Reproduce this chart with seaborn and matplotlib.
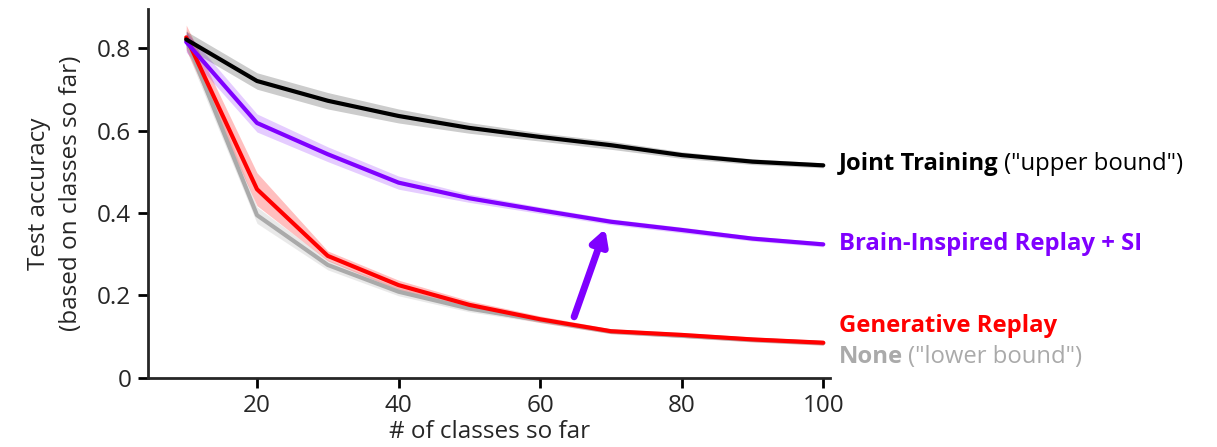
import numpy as np
import pandas as pd
import matplotlib
matplotlib.use("Agg")
import matplotlib.pyplot as plt
import seaborn as sns

classes = [10, 20, 30, 40, 50, 60, 70, 80, 90, 100]
joint = [0.822, 0.721, 0.673, 0.636, 0.607, 0.585, 0.565, 0.541, 0.525, 0.516]
joint_err = [0.02, 0.02, 0.02, 0.017, 0.013, 0.01, 0.01, 0.008, 0.007, 0.006]
bir_si = [0.816, 0.619, 0.543, 0.474, 0.436, 0.407, 0.379, 0.359, 0.338, 0.324]
bir_si_err = [0.025, 0.022, 0.018, 0.016, 0.01, 0.008, 0.007, 0.007, 0.006, 0.006]
gen_replay = [0.827, 0.458, 0.296, 0.225, 0.177, 0.142, 0.113, 0.104, 0.093, 0.085]
gen_replay_err = [0.03, 0.04, 0.012, 0.012, 0.01, 0.008, 0.006, 0.006, 0.006, 0.006]
none = [0.822, 0.395, 0.274, 0.209, 0.168, 0.140, 0.112, 0.102, 0.092, 0.084]
none_err = [0.025, 0.02, 0.012, 0.01, 0.008, 0.006, 0.005, 0.005, 0.005, 0.005]

series = [
    ("None", none, none_err, "#aaaaaa", 0.25),
    ("Generative Replay", gen_replay, gen_replay_err, "#ff0000", 0.25),
    ("Brain-Inspired Replay + SI", bir_si, bir_si_err, "#8000ff", 0.2),
    ("Joint Training", joint, joint_err, "#000000", 0.2),
]

sns.set_style("ticks")
plt.rcParams['font.family'] = ['Open Sans', 'DejaVu Sans']

fig = plt.figure(figsize=(12.17, 4.47), dpi=100)
ax = fig.add_axes([0.1216, 0.155, 0.5607, 0.824])

for name, vals, err, col, alpha in series:
    v = np.array(vals); e = np.array(err)
    ax.fill_between(classes, v - e, v + e, color=col, alpha=alpha, linewidth=0)
    df = pd.DataFrame({"x": classes, "y": vals})
    sns.lineplot(data=df, x="x", y="y", ax=ax, color=col, linewidth=3, errorbar=None)

ax.set_xlim(4.6, 101)
ax.set_ylim(0, 0.895)
ax.set_xticks([20, 40, 60, 80, 100])
ax.set_yticks([0, 0.2, 0.4, 0.6, 0.8])
ax.set_yticklabels(["0", "0.2", "0.4", "0.6", "0.8"])
ax.tick_params(labelsize=17.5, width=2, length=7, pad=5, color="black")
for s in ["left", "bottom"]:
    ax.spines[s].set_linewidth(2)
sns.despine(ax=ax)
ax.set_xlabel("# of classes so far", fontsize=17.5, labelpad=1)
ax.set_ylabel("Test accuracy\n(based on classes so far)", fontsize=17.5, labelpad=10, linespacing=1.45)

# arrow
ax.annotate("", xy=(69.2, 0.362), xytext=(64.8, 0.148),
            arrowprops=dict(arrowstyle="-|>,head_length=0.9,head_width=0.5", color="#8000ff", lw=5,
                            shrinkA=0, shrinkB=0))

# right side labels
def label(y, bold, normal, col, normal_col=None):
    t = ax.annotate(bold, xy=(1.0, y), xycoords=("axes fraction", "data"), xytext=(6, 0),
                    textcoords="offset points", fontsize=17.2, fontweight="bold", color=col,
                    va="center", ha="left", annotation_clip=False)
    if normal:
        fig.canvas.draw()
        ax.annotate(normal, xy=(1, 0.5), xycoords=t, xytext=(4, 0), textcoords="offset points",
                    fontsize=17.2, color=normal_col or col, va="center", ha="left")

label(0.52, "Joint Training", "(\"upper bound\")", "#000000")
label(0.325, "Brain-Inspired Replay + SI", None, "#8000ff")
label(0.125, "Generative Replay", None, "#ff0000")
label(0.05, "None", "(\"lower bound\")", "#aaaaaa")

fig.savefig("out.png", dpi=100)
